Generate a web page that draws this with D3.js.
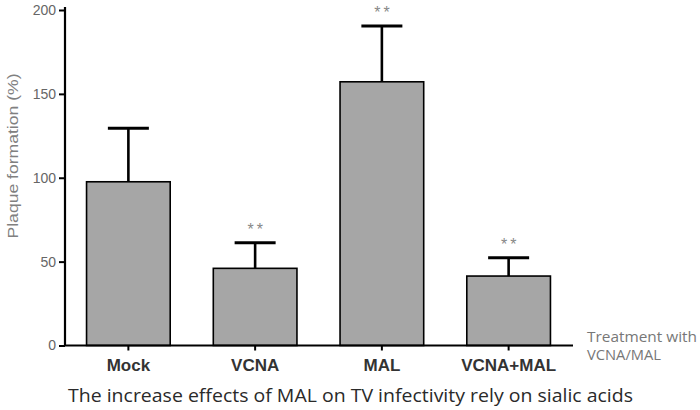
<!DOCTYPE html>
<meta charset="utf-8">
<style>
body { margin: 0; background: #fff; }
svg { display: block; font-family: "Liberation Sans", Arial, sans-serif; }
</style>
<script src="https://d3js.org/d3.v7.min.js"></script>
<svg width="700" height="410"></svg>
<script>
// data
var groups = ["Mock", "VCNA", "MAL", "VCNA+MAL"],
    means = [97.6, 46.0, 157.2, 41.4],
    errTop = [129.5, 61.3, 190.5, 52.3],
    stars = ["", "**", "**", "**"],
    yTicks = [0, 50, 100, 150, 200];

var svg = d3.select("svg");

var x = d3.scaleBand()
    .domain(groups)
    .range([65, 572])
    .paddingInner(0.34)
    .paddingOuter(0.17);

var y = d3.scaleLinear()
    .domain([0, 200])
    .range([345.5, 10]);

// bars
svg.selectAll("rect.bar")
  .data(groups)
  .enter().append("rect")
    .attr("class", "bar")
    .attr("x", function(d) { return x(d); })
    .attr("width", x.bandwidth())
    .attr("y", function(d, i) { return y(means[i]); })
    .attr("height", function(d, i) { return y(0) - y(means[i]); })
    .attr("fill", "#a6a6a6")
    .attr("stroke", "#000")
    .attr("stroke-width", 1.6);

// error bars (upper only)
var eb = svg.selectAll("g.err")
  .data(groups)
  .enter().append("g")
    .attr("class", "err")
    .attr("transform", function(d) { return "translate(" + (x(d) + x.bandwidth() / 2) + ",0)"; });

eb.append("line")
    .attr("y1", function(d, i) { return y(means[i]); })
    .attr("y2", function(d, i) { return y(errTop[i]); })
    .attr("stroke", "#000")
    .attr("stroke-width", 2.6);

eb.append("line")
    .attr("x1", -20.5).attr("x2", 20.5)
    .attr("y1", function(d, i) { return y(errTop[i]); })
    .attr("y2", function(d, i) { return y(errTop[i]); })
    .attr("stroke", "#000")
    .attr("stroke-width", 3);

eb.append("text")
    .attr("x", 1.5)
    .attr("y", function(d, i) { return y(errTop[i]) - 8; })
    .attr("text-anchor", "middle")
    .attr("font-size", 16)
    .attr("letter-spacing", 3)
    .attr("fill", "#888")
    .text(function(d, i) { return stars[i]; });

// y axis
var yAxis = svg.append("g")
    .attr("transform", "translate(65,0)")
    .call(d3.axisLeft(y).tickValues(yTicks).tickSize(6).tickPadding(3));
yAxis.select(".domain").attr("stroke", "#000").attr("stroke-width", 2.2)
    .attr("d", "M0," + y(0) + "V7");
yAxis.selectAll(".tick line").attr("stroke", "#000").attr("stroke-width", 2);
yAxis.selectAll(".tick text")
    .attr("fill", "#666")
    .attr("font-size", 14)
    .attr("font-family", "'Liberation Sans', Arial, sans-serif");

// x axis
var xAxis = svg.append("g")
    .attr("transform", "translate(0," + y(0) + ")")
    .call(d3.axisBottom(x).tickSize(5).tickPadding(8));
xAxis.select(".domain").attr("stroke", "#000").attr("stroke-width", 2.2)
    .attr("d", "M65,0H573");
xAxis.selectAll(".tick line").attr("stroke", "#000").attr("stroke-width", 2);
xAxis.selectAll(".tick text")
    .attr("fill", "#333")
    .attr("font-size", 17)
    .attr("font-weight", "bold")
    .attr("font-family", "'Liberation Sans', Arial, sans-serif");

// axis titles
svg.append("text")
    .attr("transform", "translate(18,156) rotate(-90)")
    .attr("text-anchor", "middle")
    .attr("fill", "#808080")
    .attr("font-size", 15)
    .attr("textLength", 165)
    .attr("lengthAdjust", "spacingAndGlyphs")
    .text("Plaque formation (%)");

var side = svg.append("g")
    .attr("font-family", "'Open Sans', sans-serif")
    .attr("font-size", 14)
    .attr("fill", "#777");
side.append("text").attr("x", 587).attr("y", 342)
    .attr("textLength", 110).attr("lengthAdjust", "spacingAndGlyphs")
    .text("Treatment with");
side.append("text").attr("x", 587).attr("y", 360)
    .attr("textLength", 74).attr("lengthAdjust", "spacingAndGlyphs")
    .text("VCNA/MAL");

svg.append("text")
    .attr("x", 68).attr("y", 402)
    .attr("font-family", "'Open Sans', sans-serif")
    .attr("font-size", 18)
    .attr("fill", "#2a2a2a")
    .attr("textLength", 565)
    .attr("lengthAdjust", "spacingAndGlyphs")
    .text("The increase effects of MAL on TV infectivity rely on sialic acids");
</script>
